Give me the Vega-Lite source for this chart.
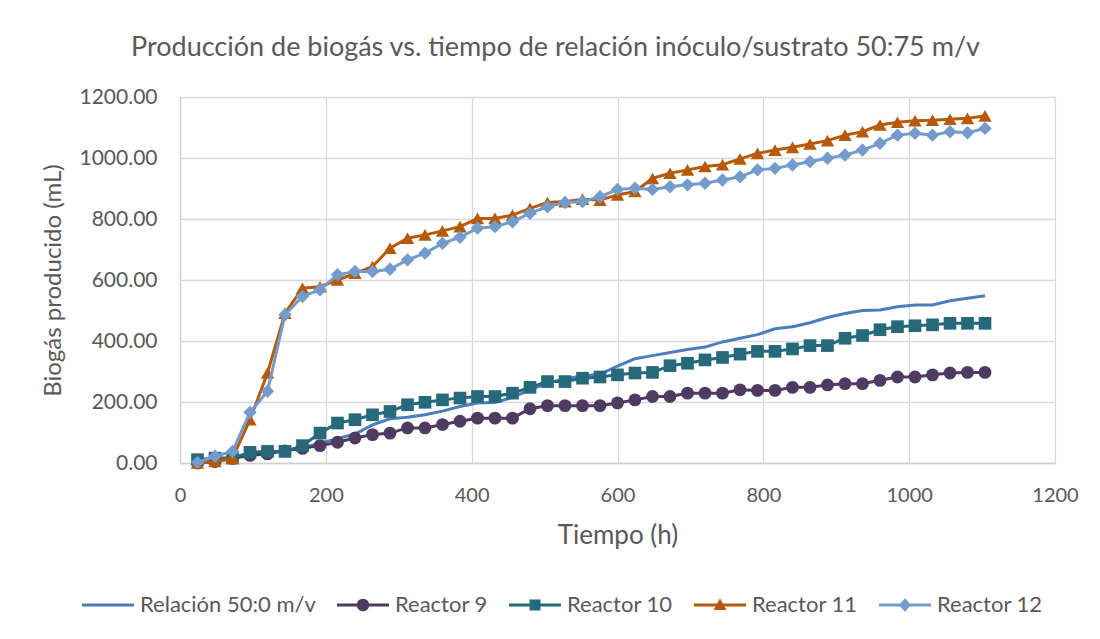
{
  "$schema": "https://vega.github.io/schema/vega-lite/v6.json",
  "width": 875,
  "height": 366,
  "autosize": {"type": "none"},
  "padding": {"left": 180, "top": 97, "right": 45, "bottom": 176},
  "background": "#ffffff",
  "config": {
    "font": "Lato",
    "view": {"stroke": null},
    "axis": {"labelColor": "#595959", "titleColor": "#595959", "labelFont": "Lato", "titleFont": "Lato", "titleFontWeight": "normal", "gridColor": "#d9d9d9", "gridWidth": 1.3, "domainColor": "#d0d0d0", "domainWidth": 1.3, "ticks": false, "labelFlush": false},
    "legend": {"labelColor": "#595959", "labelFont": "Lato"}
  },
  "title": {"text": "Producción de biogás vs. tiempo de relación inóculo/sustrato 50:75 m/v", "font": "Lato", "fontSize": 27, "fontWeight": "normal", "color": "#595959", "anchor": "middle", "frame": "group", "dx": -62, "offset": 24},
  "data": {"values": [
    {"t": 24, "Relación 50:0 m/v": 5, "Reactor 9": 0, "Reactor 10": 11, "Reactor 11": 0, "Reactor 12": 2},
    {"t": 48, "Relación 50:0 m/v": 10, "Reactor 9": 5, "Reactor 10": 16, "Reactor 11": 5, "Reactor 12": 22},
    {"t": 72, "Relación 50:0 m/v": 18, "Reactor 9": 15, "Reactor 10": 16, "Reactor 11": 16, "Reactor 12": 38},
    {"t": 96, "Relación 50:0 m/v": 28, "Reactor 9": 25, "Reactor 10": 35, "Reactor 11": 142, "Reactor 12": 166},
    {"t": 120, "Relación 50:0 m/v": 35, "Reactor 9": 30, "Reactor 10": 38, "Reactor 11": 295, "Reactor 12": 235},
    {"t": 144, "Relación 50:0 m/v": 40, "Reactor 9": 40, "Reactor 10": 38, "Reactor 11": 491, "Reactor 12": 486},
    {"t": 168, "Relación 50:0 m/v": 50, "Reactor 9": 48, "Reactor 10": 57, "Reactor 11": 573, "Reactor 12": 546},
    {"t": 192, "Relación 50:0 m/v": 65, "Reactor 9": 57, "Reactor 10": 98, "Reactor 11": 578, "Reactor 12": 568},
    {"t": 216, "Relación 50:0 m/v": 80, "Reactor 9": 68, "Reactor 10": 131, "Reactor 11": 600, "Reactor 12": 617},
    {"t": 240, "Relación 50:0 m/v": 95, "Reactor 9": 82, "Reactor 10": 142, "Reactor 11": 622, "Reactor 12": 628},
    {"t": 264, "Relación 50:0 m/v": 125, "Reactor 9": 93, "Reactor 10": 158, "Reactor 11": 644, "Reactor 12": 628},
    {"t": 288, "Relación 50:0 m/v": 145, "Reactor 9": 98, "Reactor 10": 169, "Reactor 11": 704, "Reactor 12": 635},
    {"t": 312, "Relación 50:0 m/v": 150, "Reactor 9": 115, "Reactor 10": 191, "Reactor 11": 737, "Reactor 12": 666},
    {"t": 336, "Relación 50:0 m/v": 158, "Reactor 9": 115, "Reactor 10": 199, "Reactor 11": 748, "Reactor 12": 688},
    {"t": 360, "Relación 50:0 m/v": 170, "Reactor 9": 126, "Reactor 10": 207, "Reactor 11": 761, "Reactor 12": 720},
    {"t": 384, "Relación 50:0 m/v": 185, "Reactor 9": 137, "Reactor 10": 213, "Reactor 11": 775, "Reactor 12": 740},
    {"t": 408, "Relación 50:0 m/v": 197, "Reactor 9": 147, "Reactor 10": 218, "Reactor 11": 802, "Reactor 12": 770},
    {"t": 432, "Relación 50:0 m/v": 198, "Reactor 9": 147, "Reactor 10": 218, "Reactor 11": 802, "Reactor 12": 775},
    {"t": 456, "Relación 50:0 m/v": 215, "Reactor 9": 147, "Reactor 10": 229, "Reactor 11": 813, "Reactor 12": 791},
    {"t": 480, "Relación 50:0 m/v": 240, "Reactor 9": 178, "Reactor 10": 248, "Reactor 11": 835, "Reactor 12": 819},
    {"t": 504, "Relación 50:0 m/v": 262, "Reactor 9": 188, "Reactor 10": 267, "Reactor 11": 854, "Reactor 12": 840},
    {"t": 528, "Relación 50:0 m/v": 276, "Reactor 9": 188, "Reactor 10": 267, "Reactor 11": 857, "Reactor 12": 854},
    {"t": 552, "Relación 50:0 m/v": 285, "Reactor 9": 188, "Reactor 10": 278, "Reactor 11": 865, "Reactor 12": 857},
    {"t": 576, "Relación 50:0 m/v": 291, "Reactor 9": 188, "Reactor 10": 282, "Reactor 11": 862, "Reactor 12": 873},
    {"t": 600, "Relación 50:0 m/v": 318, "Reactor 9": 197, "Reactor 10": 289, "Reactor 11": 879, "Reactor 12": 897},
    {"t": 624, "Relación 50:0 m/v": 342, "Reactor 9": 207, "Reactor 10": 295, "Reactor 11": 890, "Reactor 12": 901},
    {"t": 648, "Relación 50:0 m/v": 352, "Reactor 9": 218, "Reactor 10": 297, "Reactor 11": 933, "Reactor 12": 897},
    {"t": 672, "Relación 50:0 m/v": 362, "Reactor 9": 218, "Reactor 10": 319, "Reactor 11": 950, "Reactor 12": 906},
    {"t": 696, "Relación 50:0 m/v": 372, "Reactor 9": 229, "Reactor 10": 327, "Reactor 11": 961, "Reactor 12": 912},
    {"t": 720, "Relación 50:0 m/v": 380, "Reactor 9": 229, "Reactor 10": 338, "Reactor 11": 972, "Reactor 12": 917},
    {"t": 744, "Relación 50:0 m/v": 397, "Reactor 9": 229, "Reactor 10": 346, "Reactor 11": 978, "Reactor 12": 928},
    {"t": 768, "Relación 50:0 m/v": 409, "Reactor 9": 240, "Reactor 10": 357, "Reactor 11": 997, "Reactor 12": 938},
    {"t": 792, "Relación 50:0 m/v": 421, "Reactor 9": 238, "Reactor 10": 366, "Reactor 11": 1015, "Reactor 12": 961},
    {"t": 816, "Relación 50:0 m/v": 440, "Reactor 9": 238, "Reactor 10": 366, "Reactor 11": 1026, "Reactor 12": 966},
    {"t": 840, "Relación 50:0 m/v": 447, "Reactor 9": 248, "Reactor 10": 374, "Reactor 11": 1035, "Reactor 12": 977},
    {"t": 864, "Relación 50:0 m/v": 460, "Reactor 9": 248, "Reactor 10": 385, "Reactor 11": 1046, "Reactor 12": 988},
    {"t": 888, "Relación 50:0 m/v": 477, "Reactor 9": 256, "Reactor 10": 385, "Reactor 11": 1057, "Reactor 12": 999},
    {"t": 912, "Relación 50:0 m/v": 490, "Reactor 9": 260, "Reactor 10": 409, "Reactor 11": 1075, "Reactor 12": 1010},
    {"t": 936, "Relación 50:0 m/v": 500, "Reactor 9": 260, "Reactor 10": 418, "Reactor 11": 1086, "Reactor 12": 1026},
    {"t": 960, "Relación 50:0 m/v": 502, "Reactor 9": 271, "Reactor 10": 437, "Reactor 11": 1108, "Reactor 12": 1048},
    {"t": 984, "Relación 50:0 m/v": 512, "Reactor 9": 282, "Reactor 10": 447, "Reactor 11": 1117, "Reactor 12": 1075},
    {"t": 1008, "Relación 50:0 m/v": 518, "Reactor 9": 282, "Reactor 10": 450, "Reactor 11": 1122, "Reactor 12": 1081},
    {"t": 1032, "Relación 50:0 m/v": 518, "Reactor 9": 289, "Reactor 10": 453, "Reactor 11": 1124, "Reactor 12": 1075},
    {"t": 1056, "Relación 50:0 m/v": 532, "Reactor 9": 295, "Reactor 10": 458, "Reactor 11": 1127, "Reactor 12": 1086},
    {"t": 1080, "Relación 50:0 m/v": 540, "Reactor 9": 297, "Reactor 10": 458, "Reactor 11": 1130, "Reactor 12": 1083},
    {"t": 1104, "Relación 50:0 m/v": 548, "Reactor 9": 297, "Reactor 10": 458, "Reactor 11": 1138, "Reactor 12": 1097}
  ]},
  "transform": [
    {"fold": ["Relación 50:0 m/v", "Reactor 9", "Reactor 10", "Reactor 11", "Reactor 12"], "as": ["serie", "v"]}
  ],
  "encoding": {
    "x": {"field": "t", "type": "quantitative", "scale": {"domain": [0, 1200], "nice": false, "zero": false},
      "axis": {"values": [0, 200, 400, 600, 800, 1000, 1200], "format": "d", "title": "Tiempo (h)", "labelFontSize": 20, "titleFontSize": 26, "labelPadding": 22, "titlePadding": 17, "grid": true}},
    "y": {"field": "v", "type": "quantitative", "scale": {"domain": [0, 1200], "nice": false},
      "axis": {"values": [0, 200, 400, 600, 800, 1000, 1200], "format": ".2f", "title": "Biogás producido (mL)", "labelFontSize": 21, "titleFontSize": 24, "labelPadding": 23, "titlePadding": 13, "grid": true}}
  },
  "layer": [
    {"transform": [{"filter": "datum.serie === 'Relación 50:0 m/v'"}], "mark": {"type": "line", "color": "#4a7ebb", "strokeWidth": 3}},
    {"transform": [{"filter": "datum.serie === 'Reactor 9'"}], "mark": {"type": "line", "color": "#4f3b62", "strokeWidth": 3}},
    {"transform": [{"filter": "datum.serie === 'Reactor 9'"}], "mark": {"type": "point", "shape": "circle", "filled": true, "opacity": 1, "color": "#4f3b62", "size": 165}},
    {"transform": [{"filter": "datum.serie === 'Reactor 10'"}], "mark": {"type": "line", "color": "#26697a", "strokeWidth": 3}},
    {"transform": [{"filter": "datum.serie === 'Reactor 10'"}], "mark": {"type": "point", "shape": "square", "filled": true, "opacity": 1, "color": "#26697a", "size": 160}},
    {"transform": [{"filter": "datum.serie === 'Reactor 11'"}], "mark": {"type": "line", "color": "#b65a09", "strokeWidth": 3}},
    {"transform": [{"filter": "datum.serie === 'Reactor 11'"}], "mark": {"type": "point", "shape": "triangle-up", "filled": true, "opacity": 1, "color": "#b65a09", "size": 180}},
    {"transform": [{"filter": "datum.serie === 'Reactor 12'"}], "mark": {"type": "line", "color": "#739bcc", "strokeWidth": 3}},
    {"transform": [{"filter": "datum.serie === 'Reactor 12'"}], "mark": {"type": "point", "shape": "diamond", "filled": true, "opacity": 1, "color": "#739bcc", "size": 180}},
    {"transform": [{"filter": "false"}], "mark": {"type": "point", "filled": true, "opacity": 1},
      "encoding": {
        "color": {"field": "serie", "type": "nominal",
          "scale": {"domain": ["Relación 50:0 m/v", "Reactor 9", "Reactor 10", "Reactor 11", "Reactor 12"], "range": ["#4a7ebb", "#4f3b62", "#26697a", "#b65a09", "#739bcc"]},
          "legend": {"orient": "none", "legendX": -104, "legendY": 497, "direction": "horizontal", "columns": 5, "title": null, "labelFontSize": 22, "labelLimit": 400, "symbolSize": 100, "labelOffset": 42, "columnPadding": 15, "symbolOpacity": 1}},
        "shape": {"field": "serie", "type": "nominal",
          "scale": {"domain": ["Relación 50:0 m/v", "Reactor 9", "Reactor 10", "Reactor 11", "Reactor 12"],
            "range": [
              "M-1,-0.3H9.4V0.3H-1Z",
              "M-1,-0.3H9.4V0.3H-1Z M4.2,-1.25A1.25,1.25 0 1,1 4.2,1.25A1.25,1.25 0 1,1 4.2,-1.25Z",
              "M-1,-0.3H9.4V0.3H-1Z M3.1,-1.1H5.3V1.1H3.1Z",
              "M-1,-0.3H9.4V0.3H-1Z M4.2,-1.35L5.5,1H2.9Z",
              "M-1,-0.3H9.4V0.3H-1Z M4.2,-1.35L5.4,0L4.2,1.35L3,0Z"
            ]},
          "legend": {"orient": "none", "legendX": -104, "legendY": 497, "direction": "horizontal", "columns": 5, "title": null, "labelFontSize": 22, "labelLimit": 400, "symbolSize": 100, "labelOffset": 42, "columnPadding": 15, "symbolOpacity": 1}}
      }}
  ]
}
